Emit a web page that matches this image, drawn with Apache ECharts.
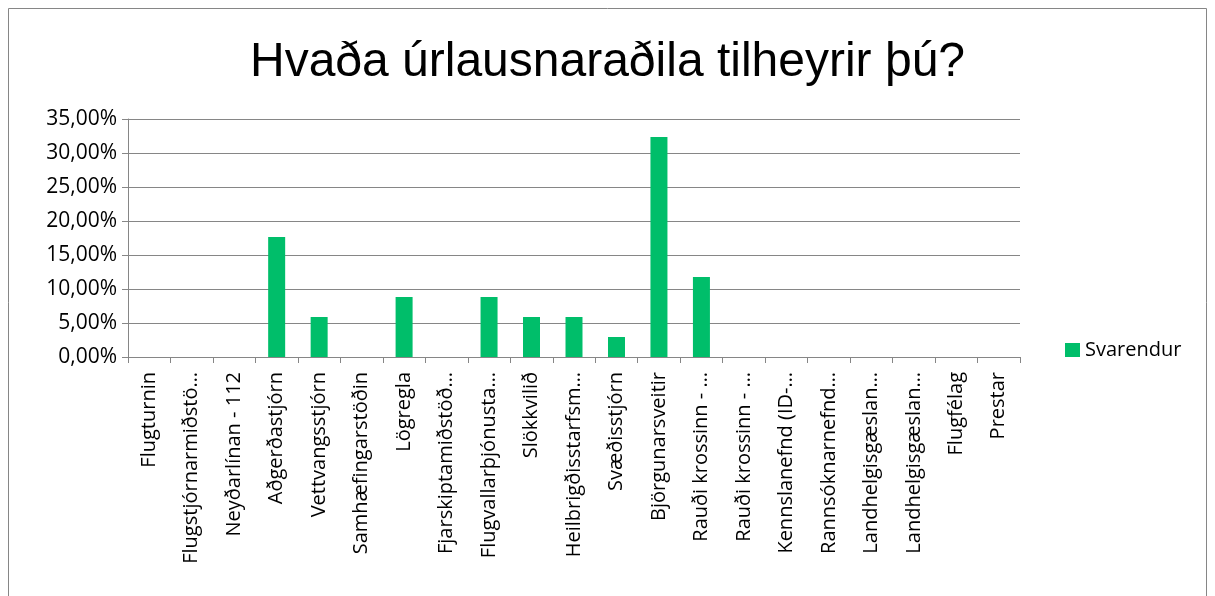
<!DOCTYPE html>
<html><head><meta charset="utf-8">
<script src="https://cdn.jsdelivr.net/npm/echarts@6/dist/echarts.min.js"></script>
<style>html,body{margin:0;padding:0;background:#fff}#c{width:1215px;height:596px}</style>
</head><body><div id="c"></div>
<script>
const categories = ["Flugturnin","Flugstjórnarmiðstö…","Neyðarlínan - 112","Aðgerðastjórn","Vettvangsstjórn","Samhæfingarstöðin","Lögregla","Fjarskiptamiðstöð…","Flugvallarþjónusta…","Slökkvilið","Heilbrigðisstarfsm…","Svæðisstjórn","Björgunarsveitir","Rauði krossinn - …","Rauði krossinn - …","Kennslanefnd (ID-…","Rannsóknarnefnd…","Landhelgisgæslan…","Landhelgisgæslan…","Flugfélag","Prestar"];
const svarendur = [0,0,0,17.65,5.88,0,8.82,0,8.82,5.88,5.88,2.94,32.35,11.76,0,0,0,0,0,0,0];
const yTicks = [0,5,10,15,20,25,30,35];
const chart = echarts.init(document.getElementById('c'));
const lab = {fontFamily:'"Open Sans", sans-serif', fontSize:20, color:'#000'};
chart.setOption({
  animation:false,
  title:{text:'Hvaða úrlausnaraðila tilheyrir þú?', left:'center', top:34,
    textStyle:{fontFamily:'"Liberation Sans", Arial, sans-serif', fontSize:48, fontWeight:'normal', color:'#000'}},
  graphic:[{type:'rect', shape:{x:8.5,y:8.5,width:1198,height:600}, style:{fill:'none', stroke:'#868686', lineWidth:1}}],
  legend:{data:['Svarendur'], left:1060, top:335, itemWidth:15, itemHeight:14, icon:'rect', itemGap:6,
    textStyle:Object.assign({}, lab, {fontSize:20})},
  grid:{left:128, top:119, right:195, bottom:239, containLabel:false},
  xAxis:{type:'category', data:categories,
    axisLine:{lineStyle:{color:'#868686'}},
    axisTick:{show:true, alignWithLabel:false, length:6, lineStyle:{color:'#868686'}},
    axisLabel:Object.assign({}, lab, {rotate:90, interval:0, margin:15})},
  yAxis:{type:'value', min:0, max:35, interval:5,
    axisLine:{show:true, lineStyle:{color:'#868686'}},
    axisTick:{show:true, length:6, lineStyle:{color:'#868686'}},
    splitLine:{lineStyle:{color:'#868686'}},
    axisLabel:Object.assign({}, lab, {fontSize:21, margin:11, formatter:v=>v.toFixed(2).replace('.',',')+'%'})},
  series:[{name:'Svarendur', type:'bar', data:svarendur, barWidth:17, itemStyle:{color:'#00BE6A'}}]
});
</script></body></html>
